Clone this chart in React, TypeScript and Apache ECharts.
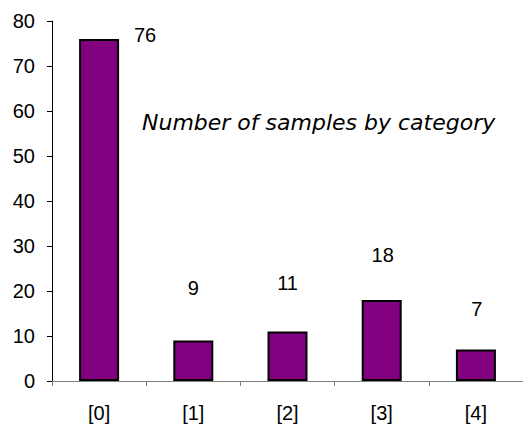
import React, { useEffect, useRef } from "react";
import * as echarts from "echarts";

const categories = ["[0]", "[1]", "[2]", "[3]", "[4]"];
const counts = [76, 9, 11, 18, 7];
const labelOffsets: [number, number][] = [[46, 11], [0, -38], [0, -34], [1, -30], [1, -26]];
const yTicks = { min: 0, max: 80, interval: 10 };
const chartTitle = "Number of samples by category";

export default function App() {
  const ref = useRef<HTMLDivElement>(null);
  useEffect(() => {
    if (!ref.current) return;
    const chart = echarts.init(ref.current, null, { renderer: "svg" });
    const font = "Liberation Sans";
    chart.setOption({
      animation: false,
      grid: { left: 52, top: 21, width: 475, height: 360, containLabel: false },
      graphic: [
        {
          type: "text",
          left: 142,
          top: 111,
          style: {
            text: chartTitle,
            font: "italic 22px 'DejaVu Sans'",
            fill: "#000",
          },
        },
      ],
      xAxis: {
        type: "category",
        data: categories,
        axisLine: { lineStyle: { color: "#808080", width: 1 } },
        axisTick: { show: true, length: 5, alignWithLabel: false, lineStyle: { color: "#808080" } },
        axisLabel: { color: "#000", fontFamily: font, fontSize: 20, margin: 22 },
      },
      yAxis: {
        type: "value",
        min: yTicks.min,
        max: yTicks.max,
        interval: yTicks.interval,
        axisLine: { show: true, lineStyle: { color: "#000", width: 1 } },
        axisTick: { show: true, length: 5, lineStyle: { color: "#000" } },
        splitLine: { show: false },
        axisLabel: { color: "#000", fontFamily: font, fontSize: 20, margin: 17 },
      },
      series: [
        {
          type: "bar",
          barWidth: 40,
          data: counts.map((v, i) => ({
            value: v,
            label: { offset: labelOffsets[i] },
          })),
          itemStyle: { color: "#800080", borderColor: "#000", borderWidth: 2 },
          label: {
            show: true,
            position: "top",
            color: "#000",
            fontFamily: font,
            fontSize: 20,
          },
        },
      ],
    });
    return () => chart.dispose();
  }, []);
  return (
    <div
      ref={ref}
      style={{ position: "fixed", left: 0, top: 0, width: 523, height: 426, background: "#fff" }}
    />
  );
}
